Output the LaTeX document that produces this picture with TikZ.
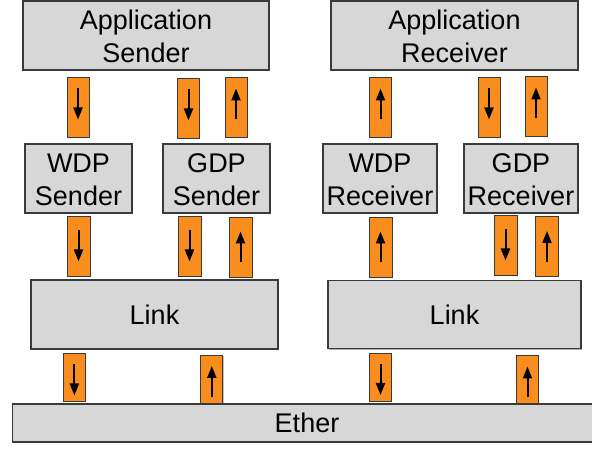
\documentclass[tikz,border=0pt]{standalone}
\usepackage{fontspec}
\setmainfont{Liberation Sans}
\usetikzlibrary{shadows,arrows.meta}
\definecolor{boxgray}{HTML}{D7D7D7}
\definecolor{pipeorange}{HTML}{F98D1E}
\definecolor{edge}{HTML}{3A3A3A}
\newcommand\lbl[1]{\fontsize{27}{33}\selectfont\begin{tabular}{@{}c@{}}#1\end{tabular}}
\tikzset{
  layer/.style={draw=edge, fill=boxgray, line width=1.2pt, inner sep=0pt,
    drop shadow={shadow xshift=1.2pt, shadow yshift=-1.2pt, opacity=0.45, fill=black!70}},
  txt/.style={inner sep=0pt, text=black},
  pipe/.style={draw=edge, fill=pipeorange, line width=0.9pt, inner sep=0pt,
    minimum width=22pt, minimum height=60pt,
    drop shadow={shadow xshift=0.8pt, shadow yshift=-0.8pt, opacity=0.35, fill=black!70}},
  shortpipe/.style={pipe, minimum width=22pt, minimum height=48pt},
  flow/.style={line width=2pt, -{Triangle[length=12pt,width=9pt]}}
}
% #1 = vertical offset of the arrow centre, #2 = pipe node
\newcommand\downflow[2]{\draw[flow] ([yshift=15.5pt+#1]#2.center) -- ([yshift=-15.5pt+#1]#2.center);}
\newcommand\upflow[2]{\draw[flow] ([yshift=-15.5pt+#1]#2.center) -- ([yshift=15.5pt+#1]#2.center);}
\begin{document}
\begin{tikzpicture}[x=1pt,y=1pt]
\useasboundingbox (0,0) rectangle (592,449);
% layers
\node[layer, minimum width=246pt, minimum height=69pt] (appS) at (146,413.5) {};
\node[layer, minimum width=247pt, minimum height=69pt] (appR) at (454.5,413.5) {};
\node[layer, minimum width=107pt, minimum height=69pt] (wdpS) at (78.5,270.5) {};
\node[layer, minimum width=107pt, minimum height=69pt] (gdpS) at (216.5,270.5) {};
\node[layer, minimum width=114pt, minimum height=69pt] (wdpR) at (380,270.5) {};
\node[layer, minimum width=114pt, minimum height=69pt] (gdpR) at (521,270.5) {};
\node[layer, minimum width=247pt, minimum height=69pt] (linkL) at (154.5,134.5) {};
\node[layer, minimum width=253pt, minimum height=68pt] (linkR) at (454.5,134.5) {};
\node[layer, minimum width=589pt, minimum height=38pt] (ether) at (307,26) {};
% labels
\node[txt] (appSt) at ([yshift=-3.5pt]appS.center) {\lbl{Application\\Sender}};
\node[txt] (appRt) at ([yshift=-3.5pt]appR.center) {\lbl{Application\\Receiver}};
\node[txt] (wdpSt) at ([yshift=-3.5pt]wdpS.center) {\lbl{WDP\\Sender}};
\node[txt] (gdpSt) at ([yshift=-3.5pt]gdpS.center) {\lbl{GDP\\Sender}};
\node[txt] (wdpRt) at ([yshift=-3.5pt]wdpR.center) {\lbl{WDP\\Receiver}};
\node[txt] (gdpRt) at ([yshift=-3.5pt]gdpR.center) {\lbl{GDP\\Receiver}};
\node[txt] (linkLt) at ([yshift=-3.2pt]linkL.center) {\lbl{Link}};
\node[txt] (linkRt) at ([yshift=-3.2pt]linkR.center) {\lbl{Link}};
\node[txt] (ethert) at ([yshift=-3.4pt]ether.center) {\lbl{Ether}};
% pipes row 1
\node[pipe] (a1) at (78,342) {};
\node[pipe] (a2) at (188.5,341) {};
\node[pipe] (a3) at (236,342) {};
\node[pipe] (a4) at (380.5,342) {};
\node[pipe] (a5) at (489,342) {};
\node[pipe] (a6) at (536,343) {};
\downflow{3pt}{a1}\downflow{3pt}{a2}\upflow{3pt}{a3}\upflow{3pt}{a4}\downflow{3pt}{a5}\upflow{3pt}{a6}
% pipes row 2
\node[pipe, minimum width=23pt] (b1) at (78.5,203) {};
\node[pipe, minimum width=23pt] (b2) at (189.5,203) {};
\node[pipe, minimum width=23pt] (b3) at (240.5,202) {};
\node[pipe, minimum width=23pt] (b4) at (380.5,202) {};
\node[pipe, minimum width=23pt] (b5) at (505.5,204) {};
\node[pipe, minimum width=23pt] (b6) at (547,202.5) {};
\downflow{0pt}{b1}\downflow{0pt}{b2}\upflow{0pt}{b3}\upflow{0pt}{b4}\downflow{0pt}{b5}\upflow{0pt}{b6}
% pipes row 3
\node[shortpipe] (c1) at (74.4,71.5) {};
\node[shortpipe] (c2) at (211.8,70) {};
\node[shortpipe] (c3) at (380.5,72) {};
\node[shortpipe] (c4) at (527.5,69.5) {};
\downflow{-2.5pt}{c1}\upflow{-2.5pt}{c2}\downflow{-2.5pt}{c3}\upflow{-2.5pt}{c4}
\end{tikzpicture}
\end{document}
